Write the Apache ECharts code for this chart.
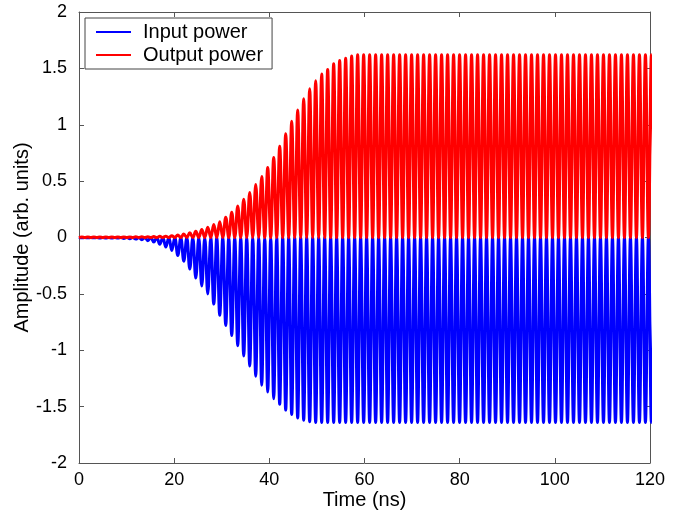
<!DOCTYPE html>
<html>
<head>
<meta charset="utf-8">
<script src="https://cdn.jsdelivr.net/npm/echarts@6/dist/echarts.min.js"></script>
<style>
  html, body { margin: 0; padding: 0; background: #fff; }
  #chart { width: 689px; height: 517px; }
</style>
</head>
<body>
<div id="chart"></div>
<script>
// Oscillation grid: one peak per cycle, troughs return to zero
const period = 1.26;      // ns per cycle
const firstPeak = 0.6;    // ns

const seriesNames = ['Input power', 'Output power'];
const xTicks = [0, 20, 40, 60, 80, 100, 120];
const yTicks = [-2, -1.5, -1, -0.5, 0, 0.5, 1, 1.5, 2];

// Peak value of each cycle of the output (red) trace
const outputPeaks = [
  0.004,0.004,0.004,0.004,0.005,0.005,0.005,0.005,0.005,0.006,
  0.006,0.007,0.008,0.010,0.012,0.016,0.022,0.030,0.042,0.055,
  0.072,0.092,0.115,0.14,0.18,0.225,0.28,0.34,0.40,0.47,
  0.54,0.62,0.71,0.81,0.92,1.03,1.13,1.23,1.32,1.39,
  1.45,1.49,1.54,1.57,1.59,1.61,1.62,1.62,1.62,1.62,
  1.62,1.62,1.62,1.62,1.62,1.62,1.62,1.62,1.62,1.62,
  1.62,1.62,1.62,1.62,1.62,1.62,1.62,1.62,1.62,1.62,
  1.62,1.62,1.62,1.62,1.62,1.62,1.62,1.62,1.62,1.62,
  1.62,1.62,1.62,1.62,1.62,1.62,1.62,1.62,1.62,1.62,
  1.62,1.62,1.62,1.62,1.62,1.62
];

// Peak (most negative) value of each cycle of the input (blue) trace
const inputPeaks = [
  -0.003,-0.003,-0.003,-0.004,-0.004,-0.005,-0.005,-0.008,-0.011,-0.014,
  -0.02,-0.028,-0.04,-0.06,-0.085,-0.115,-0.16,-0.21,-0.28,-0.36,
  -0.43,-0.50,-0.59,-0.69,-0.78,-0.87,-0.96,-1.05,-1.14,-1.23,
  -1.31,-1.37,-1.43,-1.48,-1.53,-1.57,-1.60,-1.62,-1.635,-1.64,
  -1.64,-1.64,-1.64,-1.64,-1.64,-1.64,-1.64,-1.64,-1.64,-1.64,
  -1.64,-1.64,-1.64,-1.64,-1.64,-1.64,-1.64,-1.64,-1.64,-1.64,
  -1.64,-1.64,-1.64,-1.64,-1.64,-1.64,-1.64,-1.64,-1.64,-1.64,
  -1.64,-1.64,-1.64,-1.64,-1.64,-1.64,-1.64,-1.64,-1.64,-1.64,
  -1.64,-1.64,-1.64,-1.64,-1.64,-1.64,-1.64,-1.64,-1.64,-1.64,
  -1.64,-1.64,-1.64,-1.64,-1.64,-1.64
];
const troughValue = 0;

function buildWave(peaks) {
  const d = [];
  peaks.forEach(function (p, k) {
    const t = firstPeak + k * period;
    d.push([t - period / 2, troughValue]);
    d.push([t, p]);
  });
  d.push([firstPeak + (peaks.length - 0.5) * period, troughValue]);
  return d;
}

const FONT = '"Liberation Sans", Arial, Helvetica, sans-serif';
const axisColor = '#555';

const chart = echarts.init(document.getElementById('chart'), null, { renderer: 'canvas' });

const xBase = {
  type: 'value', min: xTicks[0], max: xTicks[xTicks.length - 1], interval: 20,
  axisLine: { show: true, onZero: false, lineStyle: { color: axisColor, width: 1 } },
  axisTick: { show: true, inside: true, length: 5, lineStyle: { color: axisColor } },
  splitLine: { show: false }
};
const yBase = {
  type: 'value', min: yTicks[0], max: yTicks[yTicks.length - 1], interval: 0.5,
  axisLine: { show: true, onZero: false, lineStyle: { color: axisColor, width: 1 } },
  axisTick: { show: true, inside: true, length: 5, lineStyle: { color: axisColor } },
  splitLine: { show: false }
};

chart.setOption({
  animation: false,
  backgroundColor: '#fff',
  grid: { left: 79, right: 39, top: 12, bottom: 54, containLabel: false, outerBoundsMode: 'none' },
  legend: {
    data: seriesNames,
    orient: 'vertical',
    left: 85, top: 18,
    icon: 'rect',
    itemWidth: 35, itemHeight: 2,
    itemGap: 3,
    padding: [4, 9, 4, 11],
    backgroundColor: '#fff',
    borderColor: '#444', borderWidth: 1,
    textStyle: { fontFamily: FONT, fontSize: 20, color: '#000', lineHeight: 20, padding: [0, 0, 0, 7] }
  },
  xAxis: [
    Object.assign({}, xBase, {
      position: 'bottom',
      name: 'Time (ns)', nameLocation: 'middle', nameGap: 27, nameMoveOverlap: false,
      nameTextStyle: { fontFamily: FONT, fontSize: 20, color: '#000' },
      axisLabel: { show: true, margin: 8, fontFamily: FONT, fontSize: 18, color: '#000' }
    }),
    Object.assign({}, xBase, { position: 'top', axisLabel: { show: false } })
  ],
  yAxis: [
    Object.assign({}, yBase, {
      position: 'left',
      name: 'Amplitude (arb. units)', nameLocation: 'middle', nameGap: 47, nameMoveOverlap: false,
      nameTextStyle: { fontFamily: FONT, fontSize: 20, color: '#000' },
      axisLabel: { show: true, margin: 12, fontFamily: FONT, fontSize: 18, color: '#000' }
    }),
    Object.assign({}, yBase, { position: 'right', axisLabel: { show: false } })
  ],
  series: [
    {
      name: seriesNames[0], type: 'line', data: buildWave(inputPeaks),
      xAxisIndex: 0, yAxisIndex: 0,
      showSymbol: false, symbol: 'none', smooth: 0.4,
      lineStyle: { color: '#0000ff', width: 3 }, itemStyle: { color: '#0000ff' },
      clip: true
    },
    {
      name: seriesNames[1], type: 'line', data: buildWave(outputPeaks),
      xAxisIndex: 0, yAxisIndex: 0,
      showSymbol: false, symbol: 'none', smooth: 0.4,
      lineStyle: { color: '#ff0000', width: 3 }, itemStyle: { color: '#ff0000' },
      clip: true
    }
  ]
});
</script>
</body>
</html>
